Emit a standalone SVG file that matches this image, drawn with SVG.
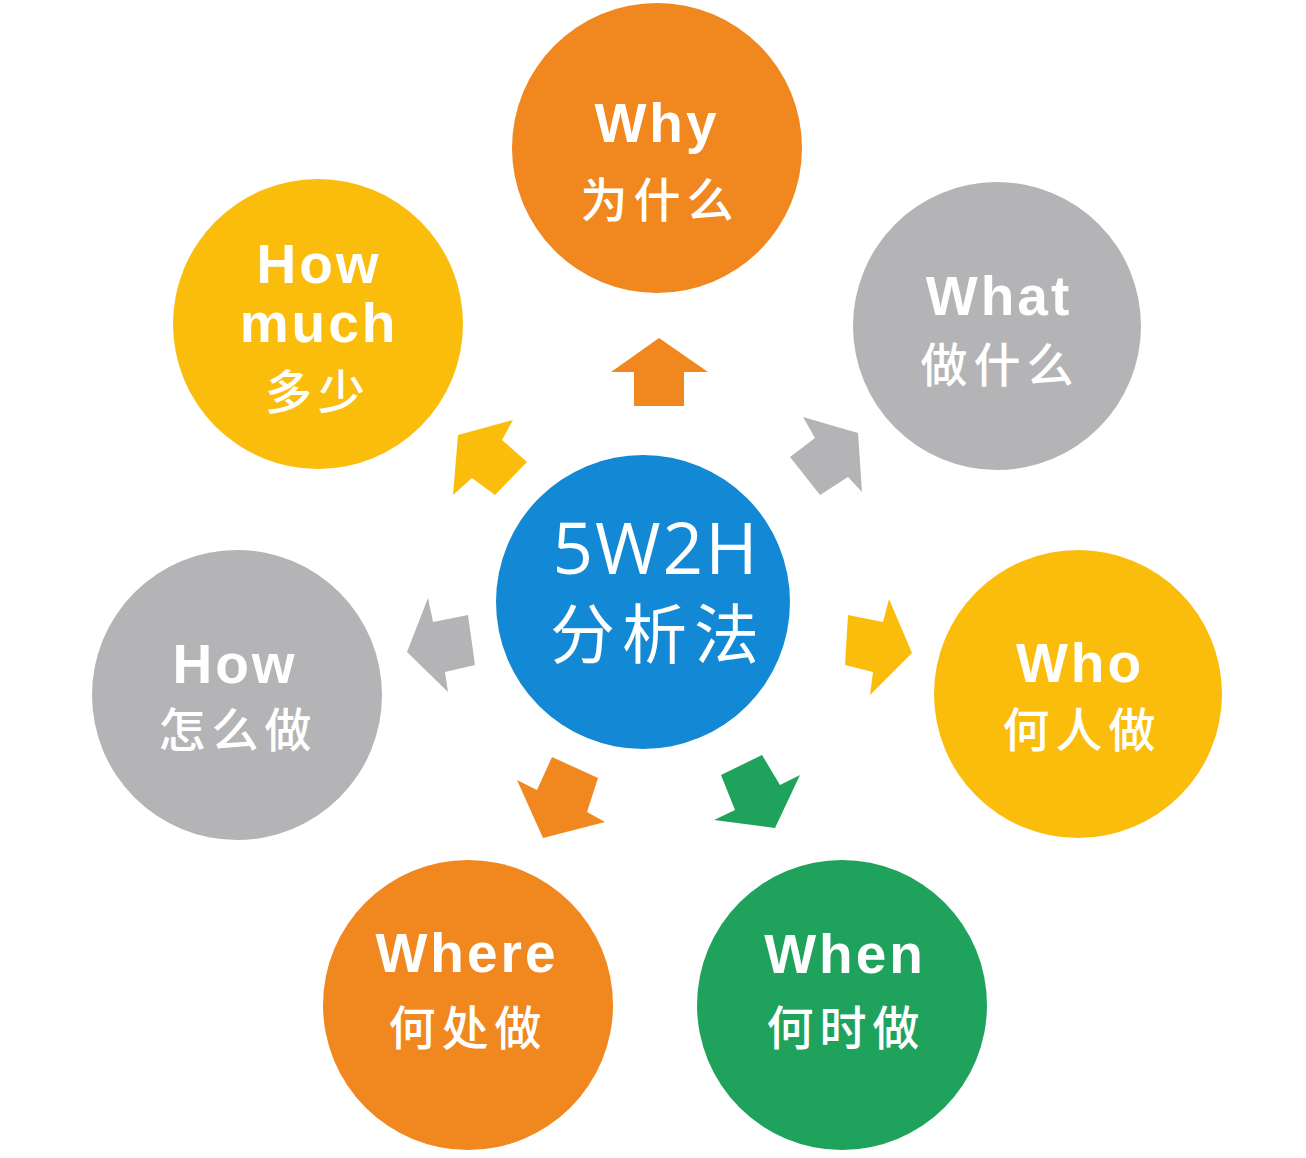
<svg xmlns="http://www.w3.org/2000/svg" width="1306" height="1158" viewBox="0 0 1306 1158">
<style>
.en{font-family:"Liberation Sans",Arial,sans-serif;font-weight:bold;font-size:55px;fill:#fff;text-anchor:middle;letter-spacing:3px}
.zh{font-family:"Noto Sans CJK SC",sans-serif;font-weight:500;font-size:47px;fill:#fff;text-anchor:middle;letter-spacing:6px}
.orange{fill:#F0871F}
.gray{fill:#B4B4B6}
.yellow{fill:#FBBD0C}
.green{fill:#1FA35C}
.blue{fill:#1389D5}
</style>
<rect width="1306" height="1158" fill="#fff"/>
<g id="connectors">
<polygon class="orange" points="659,338 708,372 684,372 684,406 634,406 634,372 611,372"/>
<polygon class="gray" points="803,417 858,433 862,492 848,477 820,495 790,457 815,438"/>
<polygon class="yellow" points="848,615 883,622 889,599 912,653 870,695 873,672 845,665"/>
<polygon class="green" points="721,775 762,755 780,785 800,775 775,828 714,820 735,810"/>
<polygon class="orange" points="552,757 598,778 587,812 605,822 543,838 517,780 537,790"/>
<polygon class="gray" points="428,598 433,622 468,615 475,665 445,672 448,692 407,652"/>
<polygon class="yellow" points="458,435 513,420 502,440 527,462 495,495 472,478 453,495"/>
</g>
<g id="center">
<circle class="blue" cx="643" cy="602" r="147"/>
<text x="656" y="574" font-family="'Open Sans','Noto Sans',sans-serif" font-size="71" fill="#fff" text-anchor="middle" letter-spacing="2">5W2H</text>
<text x="658" y="658" font-family="'Noto Sans CJK SC',sans-serif" font-size="65" fill="#fff" text-anchor="middle" letter-spacing="7">分析法</text>
</g>
<g id="why">
<circle class="orange" cx="657" cy="148" r="145"/>
<text class="en" x="657" y="142">Why</text>
<text class="zh" x="660" y="217">为什么</text>
</g>
<g id="what">
<circle class="gray" cx="997" cy="326" r="144"/>
<text class="en" x="999" y="315">What</text>
<text class="zh" x="1000" y="382">做什么</text>
</g>
<g id="who">
<circle class="yellow" cx="1078" cy="694" r="144"/>
<text class="en" x="1080" y="682">Who</text>
<text class="zh" x="1082" y="747">何人做</text>
</g>
<g id="when">
<circle class="green" cx="842" cy="1005" r="145"/>
<text class="en" x="845" y="973">When</text>
<text class="zh" x="846" y="1045">何时做</text>
</g>
<g id="where">
<circle class="orange" cx="468" cy="1005" r="145"/>
<text class="en" x="467" y="972">Where</text>
<text class="zh" x="468" y="1045">何处做</text>
</g>
<g id="how">
<circle class="gray" cx="237" cy="695" r="145"/>
<text class="en" x="235" y="683">How</text>
<text class="zh" x="238" y="747">怎么做</text>
</g>
<g id="howmuch">
<circle class="yellow" cx="318" cy="324" r="145"/>
<text class="en" x="319" y="283">How</text>
<text class="en" x="319" y="342">much</text>
<text class="zh" x="318" y="409">多少</text>
</g>
</svg>
